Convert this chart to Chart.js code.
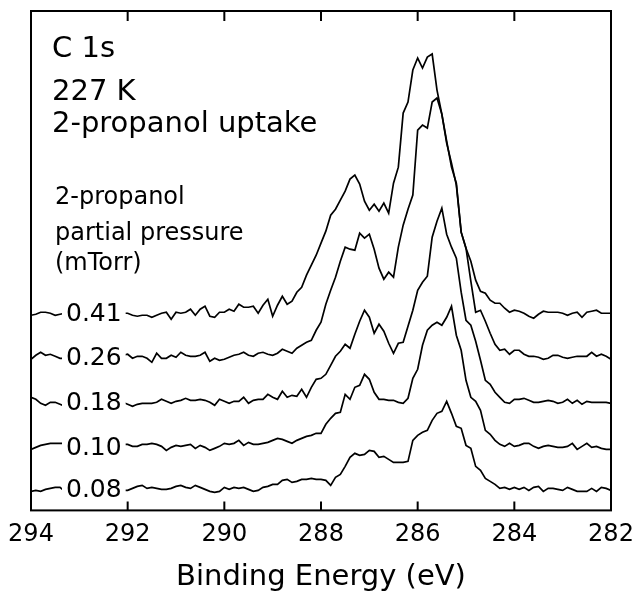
<!DOCTYPE html>
<html>
<head>
<meta charset="utf-8">
<script src="https://cdn.jsdelivr.net/npm/chart.js@4/dist/chart.umd.min.js"></script>
<style>
html,body{margin:0;padding:0;background:#fff;}
canvas{display:block;}
</style>
</head>
<body>
<canvas id="c" width="633" height="595"></canvas>
<script>
// Binding energy grid (eV)
const energies = [
294.0,293.9,293.8,293.7,293.6,293.5,293.4,293.3,293.2,293.1,
293.0,292.9,292.8,292.7,292.6,292.5,292.4,292.3,292.2,292.1,
292.0,291.9,291.8,291.7,291.6,291.5,291.4,291.3,291.2,291.1,
291.0,290.9,290.8,290.7,290.6,290.5,290.4,290.3,290.2,290.1,
290.0,289.9,289.8,289.7,289.6,289.5,289.4,289.3,289.2,289.1,
289.0,288.9,288.8,288.7,288.6,288.5,288.4,288.3,288.2,288.1,
288.0,287.9,287.8,287.7,287.6,287.5,287.4,287.3,287.2,287.1,
287.0,286.9,286.8,286.7,286.6,286.5,286.4,286.3,286.2,286.1,
286.0,285.9,285.8,285.7,285.6,285.5,285.4,285.3,285.2,285.1,
285.0,284.9,284.8,284.7,284.6,284.5,284.4,284.3,284.2,284.1,
284.0,283.9,283.8,283.7,283.6,283.5,283.4,283.3,283.2,283.1,
283.0,282.9,282.8,282.7,282.6,282.5,282.4,282.3,282.2,282.1,
282.0];

// Pressure labels (mTorr), bottom to top
const pressures = ["0.08","0.10","0.18","0.26","0.41"];
// Vertical offsets of each stacked spectrum (arb. units)
const offsets = [21, 63, 108, 153, 197];

// C 1s intensities above each spectrum's baseline (arb. units)
const s008 = [
-2,-1,-2,0,1,2,2,-2,
-1,0,1,0,-1,1,0,0,1,-1,0,-1,
-1,1,3,4,1,2,1,0,0,1,
3,4,2,1,4,2,0,-2,-3,-2,
2,0,2,1,2,0,-2,-1,2,3,
5,5,9,10,7,8,10,10,11,10,
10,9,4,12,15,23,32,36,34,35,
39,38,32,33,30,27,27,27,28,49,
54,57,59,69,76,78,88,76,63,61,
44,41,23,19,11,8,5,1,2,0,
2,0,2,-1,2,3,-2,1,1,0,
-1,2,0,-2,-2,-2,1,-2,2,1,-1];

const s010 = [
-2,0,2,3,4,4,4,4,
3,2,3,4,3,2,3,4,3,2,3,3,
3,1,1,3,3,4,3,1,-3,0,
2,1,2,3,-1,2,0,-3,-1,1,
4,3,4,7,2,5,3,3,4,5,
7,9,8,6,4,7,9,11,12,14,
14,23,29,34,35,53,48,60,62,73,
68,55,48,48,47,47,45,44,49,69,
78,102,117,122,125,122,130,141,112,97,
67,50,46,37,17,13,7,3,1,4,
1,2,4,4,1,-1,1,2,1,0,
0,1,4,-2,1,4,0,1,-1,-2,-2];

const s018 = [
5,3,-1,-3,0,0,-2,-4,
-1,0,1,-1,0,1,0,-1,1,0,-1,0,
-2,-4,-2,-1,-1,-1,0,3,1,-1,
1,2,4,2,2,3,2,0,-3,3,
1,-1,1,1,5,-1,2,3,3,8,
5,3,11,5,7,6,13,5,15,23,
24,28,37,46,51,58,54,68,81,92,
85,69,78,71,59,49,59,60,76,92,
112,120,126,165,181,194,168,155,144,110,
82,77,61,42,22,18,10,5,0,-1,
3,3,4,2,0,0,1,2,1,-1,
0,3,-1,2,-2,1,0,0,0,0,-1];

const s026 = [
-2,2,5,2,3,1,-1,-1,
0,1,-1,0,2,0,1,-1,0,1,0,2,
3,-1,1,1,-1,-5,4,-1,-1,2,
0,5,2,1,1,2,5,-4,-1,-3,
-2,0,2,3,5,2,1,4,5,3,
2,4,8,6,4,9,12,15,17,27,
35,53,67,80,96,110,108,107,124,119,
123,108,89,78,85,80,110,132,148,162,
227,232,229,255,259,243,216,190,174,125,
109,76,45,47,36,24,13,7,8,3,
7,7,3,1,1,0,-2,-1,2,2,
0,-1,0,1,1,1,5,1,3,1,-2];

const s041 = [
-2,-1,1,1,0,-2,-1,0,
1,0,-1,1,0,2,0,-1,1,0,1,0,
0,-2,-3,-2,-2,-4,-2,0,1,-6,
1,0,1,4,-2,4,7,-3,-4,1,
1,4,2,9,6,6,7,0,8,14,
-3,8,17,9,12,21,26,38,48,58,
70,82,98,104,113,122,134,138,129,112,
103,109,102,110,100,130,146,200,211,243,
255,245,256,259,223,199,170,150,128,81,
65,52,33,22,20,13,10,10,5,1,
3,2,0,-3,-5,-1,2,1,1,1,
0,-2,0,1,-4,1,2,3,0,0,0];

const xTicks = [294, 292, 290, 288, 286, 284, 282];
const titleLines = ["C 1s", "227 K", "2-propanol uptake"];
const legendLines = ["2-propanol", "partial pressure", "(mTorr)"];

const seriesList = [s008, s010, s018, s026, s041];

Chart.defaults.font.family = "'DejaVu Sans', sans-serif";
Chart.defaults.color = "#000";

const datasets = seriesList.map((s, k) => ({
  label: pressures[k],
  data: s.map((v, i) => ({x: energies[i], y: v + offsets[k]})),
  borderColor: "#000",
  borderWidth: 1.7,
  pointRadius: 0,
  tension: 0,
  fill: false
}));

const LABEL_E = 292.7;

const overlay = {
  id: "overlay",
  afterDatasetsDraw(chart) {
    const {ctx, chartArea: a, scales: {x, y}} = chart;
    ctx.save();
    // pressure labels on the traces
    ctx.font = "25px 'DejaVu Sans'";
    ctx.textAlign = "center";
    ctx.textBaseline = "middle";
    pressures.forEach((p, k) => {
      const px = x.getPixelForValue(LABEL_E);
      const py = y.getPixelForValue(offsets[k]);
      const w = ctx.measureText(p).width;
      ctx.fillStyle = "#fff";
      ctx.fillRect(px - w / 2 - 4, py - 12, w + 8, 24);
      ctx.fillStyle = "#000";
      ctx.fillText(p, px, py + 1);
    });
    // annotation text
    ctx.textAlign = "left";
    ctx.textBaseline = "alphabetic";
    ctx.font = "29px 'DejaVu Sans'";
    const tb = [57, 100, 132];
    titleLines.forEach((t, i) => ctx.fillText(t, a.left + 21, tb[i]));
    ctx.font = "24px 'DejaVu Sans'";
    const lb = [204, 240, 270];
    legendLines.forEach((t, i) => ctx.fillText(t, a.left + 24, lb[i]));
    // frame
    ctx.strokeStyle = "#000";
    ctx.lineWidth = 2;
    ctx.strokeRect(a.left, a.top, a.right - a.left, a.bottom - a.top);
    // inward ticks
    xTicks.forEach(v => {
      const px = x.getPixelForValue(v);
      ctx.beginPath();
      ctx.moveTo(px, a.bottom);
      ctx.lineTo(px, a.bottom - 9);
      ctx.moveTo(px, a.top);
      ctx.lineTo(px, a.top + 10);
      ctx.stroke();
    });
    ctx.restore();
  }
};

new Chart(document.getElementById("c"), {
  type: "line",
  data: {datasets},
  options: {
    responsive: false,
    animation: false,
    layout: {padding: {left: 31, right: 22, top: 11, bottom: 0}},
    plugins: {legend: {display: false}, tooltip: {enabled: false}},
    scales: {
      x: {
        type: "linear",
        reverse: true,
        min: 282,
        max: 294,
        grid: {display: false, drawTicks: false},
        border: {display: false},
        afterBuildTicks: s => { s.ticks = xTicks.map(v => ({value: v})); },
        afterFit: s => { s.paddingLeft = 0; s.paddingRight = 0; },
        ticks: {
          font: {size: 24},
          color: "#000",
          padding: 10,
          maxRotation: 0,
          autoSkip: false,
          callback: v => String(v)
        },
        title: {
          display: true,
          text: "Binding Energy (eV)",
          font: {size: 29},
          color: "#000",
          padding: {top: 1, bottom: 0}
        }
      },
      y: {
        type: "linear",
        display: false,
        min: 0,
        max: 499
      }
    }
  },
  plugins: [overlay]
});
</script>
</body>
</html>
